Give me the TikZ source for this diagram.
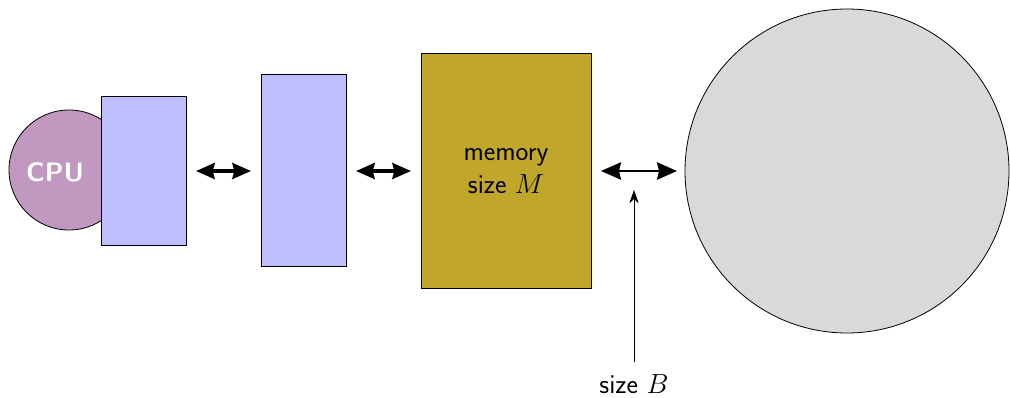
\documentclass[tikz,border=0pt]{standalone}
\usetikzlibrary{arrows.meta}
\definecolor{cpucol}{RGB}{192,152,192}
\definecolor{cachecol}{RGB}{191,191,255}
\definecolor{memcol}{RGB}{192,166,42}
\definecolor{diskcol}{RGB}{217,217,217}
\tikzset{
  box/.style={draw, line width=0.6pt, inner sep=0pt, anchor=north west},
  bigarrow/.style={line width=2.6pt, {Stealth[length=14pt,width=12pt,inset=1.5pt]}-{Stealth[length=14pt,width=12pt,inset=1.5pt]}},
  midarrow/.style={line width=1.5pt, {Stealth[length=15pt,width=13pt,inset=1.5pt]}-{Stealth[length=15pt,width=13pt,inset=1.5pt]}},
  lbl/.style={font=\sffamily\fontsize{20.5}{24}\selectfont, align=center, inner sep=0pt}
}
\begin{document}
\begin{tikzpicture}[x=0.75pt,y=-0.75pt]
\useasboundingbox (0,0) rectangle (1010,397);
\node[circle, draw, line width=0.6pt, fill=cpucol, minimum size=120*0.75pt, inner sep=0pt] (cpu) at (69,170) {};
\node[text=white, font=\sffamily\bfseries\fontsize{20}{24}\selectfont, inner sep=0pt] (cputxt) at (55,172) {CPU};
\node[box, fill=cachecol, minimum width=85*0.75pt, minimum height=149*0.75pt] (c1) at (101,96) {};
\node[box, fill=cachecol, minimum width=85*0.75pt, minimum height=192*0.75pt] (c2) at (261,74) {};
\node[box, fill=memcol, minimum width=170*0.75pt, minimum height=235*0.75pt] (mem) at (421,53) {};
\node[lbl] (memtxt) at (506,171) {memory\\[1pt]size $M$};
\node[circle, draw, line width=0.6pt, fill=diskcol, minimum size=324*0.75pt, inner sep=0pt] (disk) at (847,171) {};
\coordinate (a1s) at (196,171); \coordinate (a1e) at (251,171);
\coordinate (a2s) at (356,171); \coordinate (a2e) at (411,171);
\coordinate (a3s) at (601,171); \coordinate (a3e) at (677,171);
\draw[bigarrow] (a1s) -- (a1e);
\draw[bigarrow] (a2s) -- (a2e);
\draw[midarrow] (a3s) -- (a3e);
\node[lbl, anchor=north] (bl) at (634,374) {size $B$};
\coordinate (bbot) at (634,362);
\coordinate (btop) at (634,190);
\draw[line width=0.6pt, -{Stealth[length=10pt,width=7pt]}] (bbot) -- (btop);
\end{tikzpicture}
\end{document}
